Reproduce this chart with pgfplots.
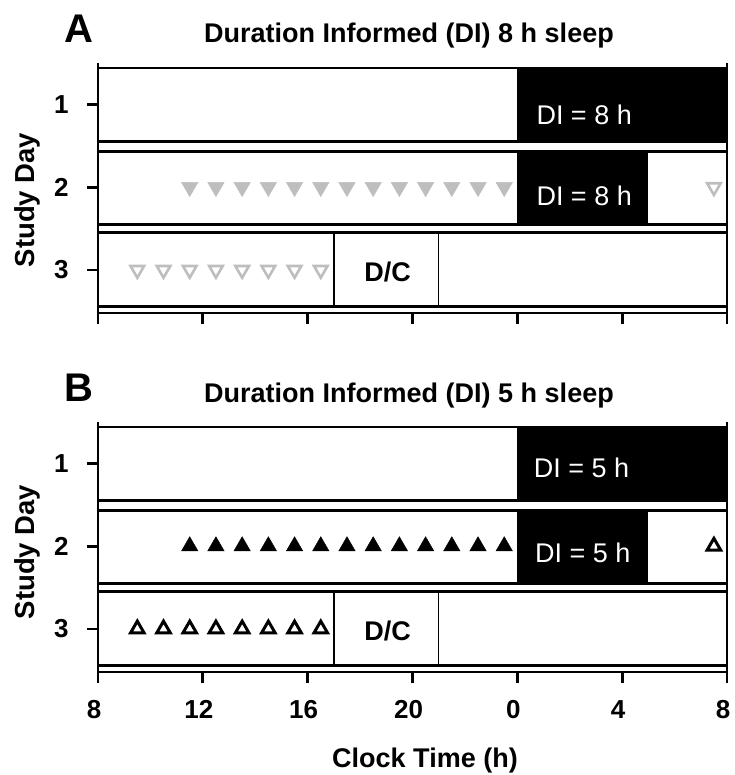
\documentclass[border=0pt]{standalone}
\usepackage{pgfplots}
\pgfplotsset{compat=1.18}
\usepackage{fontspec}
\setmainfont{Liberation Sans}
\definecolor{mgray}{RGB}{190,190,190}
\newcommand{\bigf}{\fontsize{27}{30}\selectfont}
\pgfplotsset{
 panel/.style={
  scale only axis, width=629pt, height=250pt,
  xmin=8, xmax=32, ymin=0.5, ymax=3.52, y dir=reverse,
  axis x line*=bottom, axis y line*=box,
  xtick={8,12,16,20,24,28,32}, ytick={1,2,3}, ytick pos=left,
  tick align=outside, major tick length=11pt,
  axis line style={line width=2.8pt},
  every tick/.style={line width=2.8pt, black},
  /pgf/number format/assume math mode=true,
  tick label style={font=\fontsize{26}{26}\selectfont\bfseries},
  xticklabel style={yshift=-14pt, xshift=-4pt},
  yticklabel style={xshift=-15pt},
  clip=false,
 },
 rowbox/.style={black, line width=2.6pt, no marks},
 dcline/.style={black, line width=1.3pt, no marks},
 sleep/.style={fill=black, draw=none, no marks},
}
\begin{document}
\begin{tikzpicture}
\path[use as bounding box] (0pt,0pt) rectangle (734pt,775pt);

% ---------------- Panel A ----------------
\begin{axis}[panel, at={(98pt,462pt)}, anchor=south west, xticklabels={,,,,,,}]
\addplot[sleep] coordinates {(24,0.56) (32,0.56) (32,1.45) (24,1.45)} --cycle;
\addplot[sleep] coordinates {(24,1.57) (29,1.57) (29,2.45) (24,2.45)} --cycle;
\addplot[rowbox] coordinates {(8,0.56) (32,0.56) (32,1.45) (8,1.45)} --cycle;
\addplot[rowbox] coordinates {(8,1.57) (32,1.57) (32,2.45) (8,2.45)} --cycle;
\addplot[rowbox] coordinates {(8,2.55) (32,2.55) (32,3.44) (8,3.44)} --cycle;
\addplot[dcline] coordinates {(17,2.55) (17,3.44)};
\addplot[dcline] coordinates {(21,2.55) (21,3.44)};
\addplot[only marks, mark=triangle*, mark size=9.5pt, mark options={rotate=180, fill=mgray, draw=mgray}]
 coordinates {(11.5,2) (12.5,2) (13.5,2) (14.5,2) (15.5,2) (16.5,2) (17.5,2) (18.5,2) (19.5,2) (20.5,2) (21.5,2) (22.5,2) (23.5,2)};
\addplot[only marks, mark=triangle, mark size=7.8pt, mark options={rotate=180, draw=mgray, line width=2.6pt}]
 coordinates {(31.5,2)};
\addplot[only marks, mark=triangle, mark size=7.8pt, mark options={rotate=180, draw=mgray, line width=2.6pt}]
 coordinates {(9.5,3) (10.5,3) (11.5,3) (12.5,3) (13.5,3) (14.5,3) (15.5,3) (16.5,3)};
\node[white, font=\bigf] at (axis cs:26.55,1.13) {DI = 8 h};
\node[white, font=\bigf] at (axis cs:26.55,2.11) {DI = 8 h};
\node[black, font=\bigf\bfseries] at (axis cs:19.05,3.02) {D/C};
\end{axis}

% ---------------- Panel B ----------------
\begin{axis}[panel, at={(98pt,103pt)}, anchor=south west, xticklabels={8,12,16,20,0,4,8}]
\addplot[sleep] coordinates {(24,0.56) (32,0.56) (32,1.45) (24,1.45)} --cycle;
\addplot[sleep] coordinates {(24,1.57) (29,1.57) (29,2.45) (24,2.45)} --cycle;
\addplot[rowbox] coordinates {(8,0.56) (32,0.56) (32,1.45) (8,1.45)} --cycle;
\addplot[rowbox] coordinates {(8,1.57) (32,1.57) (32,2.45) (8,2.45)} --cycle;
\addplot[rowbox] coordinates {(8,2.55) (32,2.55) (32,3.44) (8,3.44)} --cycle;
\addplot[dcline] coordinates {(17,2.55) (17,3.44)};
\addplot[dcline] coordinates {(21,2.55) (21,3.44)};
\addplot[only marks, mark=triangle*, mark size=9.5pt, mark options={fill=black, draw=black}]
 coordinates {(11.5,2) (12.5,2) (13.5,2) (14.5,2) (15.5,2) (16.5,2) (17.5,2) (18.5,2) (19.5,2) (20.5,2) (21.5,2) (22.5,2) (23.5,2)};
\addplot[only marks, mark=triangle, mark size=7.8pt, mark options={draw=black, line width=3pt}]
 coordinates {(31.5,2)};
\addplot[only marks, mark=triangle, mark size=7.8pt, mark options={draw=black, line width=3pt}]
 coordinates {(9.5,3) (10.5,3) (11.5,3) (12.5,3) (13.5,3) (14.5,3) (15.5,3) (16.5,3)};
\node[white, font=\bigf] at (axis cs:26.45,1.05) {DI = 5 h};
\node[white, font=\bigf] at (axis cs:26.5,2.08) {DI = 5 h};
\node[black, font=\bigf\bfseries] at (axis cs:19.05,3.02) {D/C};
\end{axis}

% ---------------- Labels ----------------
\node[anchor=base, font=\fontsize{40}{40}\selectfont\bfseries] at (79pt,732pt) {A};
\node[anchor=base, font=\bigf\bfseries] at (409pt,732pt) {Duration Informed (DI) 8 h sleep};
\node[anchor=base, font=\fontsize{40}{40}\selectfont\bfseries] at (79pt,373pt) {B};
\node[anchor=base, font=\bigf\bfseries] at (409pt,372pt) {Duration Informed (DI) 5 h sleep};
\node[rotate=90, font=\fontsize{27.5}{28}\selectfont\bfseries] at (27pt,575pt) {Study Day};
\node[rotate=90, font=\fontsize{27.5}{28}\selectfont\bfseries] at (27pt,223pt) {Study Day};
\node[anchor=base, font=\bigf\bfseries] at (425pt,7pt) {Clock Time (h)};
\end{tikzpicture}
\end{document}
